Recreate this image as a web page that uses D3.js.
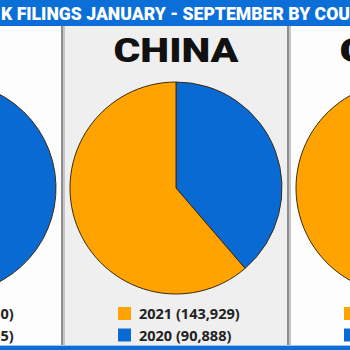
<!DOCTYPE html>
<html>
<head>
<meta charset="utf-8">
<script src="https://cdn.jsdelivr.net/npm/d3@7"></script>
<style>
  html, body { margin: 0; padding: 0; background: #fff; }
  svg { display: block; }
</style>
</head>
<body>
<div id="chart"></div>
<script>
// data
var countries = ['USA', 'CHINA', 'CHILE'];
var years = ['2021', '2020'];
var filings2021 = [101350, 143929, 95412];
var filings2020 = [127455, 90888, 52617];
var yearColors = {'2021': '#ffa300', '2020': '#0a6ad4'};
var panelFills = ['#fdfdfd', '#efefef', '#fdfdfd'];
var titleHead = 'TRADEMAR', titleBody = 'K FILINGS JANUARY - SEPTEMBER BY COU', titleTail = 'NTRY';

var W = 350, H = 350;
var svg = d3.select('#chart').append('svg')
  .attr('width', W)
  .attr('height', H);

var xPanel = d3.scaleBand()
  .domain(countries)
  .range([-163, 515]);

var topY = 26, bottomY = 345;

// panels
var panels = svg.selectAll('g.panel')
  .data(countries)
  .enter().append('g')
  .attr('class', 'panel')
  .attr('transform', function(d) { return 'translate(' + xPanel(d) + ',0)'; });

panels.append('rect')
  .attr('x', 0).attr('y', topY)
  .attr('width', xPanel.bandwidth()).attr('height', bottomY - topY)
  .attr('fill', function(d, i) { return panelFills[i]; });

// dividers between panels
var dividers = countries.slice(1).map(function(c) { return xPanel(c); });
svg.selectAll('g.divider')
  .data(dividers)
  .enter().append('g')
  .attr('class', 'divider')
  .each(function(x) {
    var g = d3.select(this);
    g.append('rect').attr('x', x - 2).attr('y', topY).attr('width', 2).attr('height', bottomY - topY).attr('fill', '#8e8e8e');
    g.append('rect').attr('x', x).attr('y', topY).attr('width', 2).attr('height', bottomY - topY).attr('fill', '#c4c4c4');
  });

var pie = d3.pie().sort(null).value(function(d) { return d.value; });
var radius = 106, cyPie = 188;
var arc = d3.arc().innerRadius(0).outerRadius(radius);

panels.each(function(country, i) {
  var g = d3.select(this);
  var cx = xPanel.bandwidth() / 2;
  var slices = [
    {year: '2020', value: filings2020[i]},
    {year: '2021', value: filings2021[i]}
  ];

  g.append('text')
    .attr('x', cx)
    .attr('y', 62)
    .attr('text-anchor', 'middle')
    .attr('textLength', 25 * country.length)
    .attr('lengthAdjust', 'spacingAndGlyphs')
    .style('font-family', 'Roboto, "Liberation Sans", sans-serif')
    .style('font-weight', 900)
    .style('font-size', '34px')
    .style('fill', '#111')
    .text(country);

  g.append('g')
    .attr('transform', 'translate(' + cx + ',' + cyPie + ')')
    .selectAll('path')
    .data(pie(slices))
    .enter().append('path')
    .attr('d', arc)
    .attr('fill', function(d) { return yearColors[d.data.year]; })
    .attr('stroke', '#3b2a12')
    .attr('stroke-width', 1);

  var vals = {'2021': filings2021[i], '2020': filings2020[i]};
  var leg = g.selectAll('g.leg')
    .data(years)
    .enter().append('g')
    .attr('class', 'leg')
    .attr('transform', function(d, k) { return 'translate(' + (cx - 58) + ',' + (307 + k * 21.5) + ')'; });
  leg.append('rect')
    .attr('width', 13).attr('height', 13)
    .attr('fill', function(d) { return yearColors[d]; });
  leg.append('text')
    .attr('x', 21)
    .attr('y', 12)
    .style('font-family', '"Open Sans", "Noto Sans", sans-serif')
    .style('font-weight', 700)
    .style('font-size', '14.5px')
    .style('fill', '#222')
    .text(function(d) { return d + ' (' + d3.format(',')(vals[d]) + ')'; });
});

// header band
svg.append('rect').attr('x', 0).attr('y', 0).attr('width', W).attr('height', topY).attr('fill', '#0b6fd7');
var titleStyle = function(sel) {
  sel.style('font-family', 'Roboto, sans-serif')
    .style('font-weight', 900)
    .style('font-size', '19px')
    .style('fill', '#fff');
};
svg.append('text').attr('x', 1).attr('y', 19.5)
  .attr('textLength', 349).attr('lengthAdjust', 'spacingAndGlyphs')
  .call(titleStyle).text(titleBody);
svg.append('text').attr('x', -4).attr('y', 19.5).attr('text-anchor', 'end')
  .call(titleStyle).text(titleHead);
svg.append('text').attr('x', 356).attr('y', 19.5)
  .call(titleStyle).text(titleTail);

// bottom band
svg.append('rect').attr('x', 0).attr('y', bottomY).attr('width', W).attr('height', 1).attr('fill', '#9fc3ea');
svg.append('rect').attr('x', 0).attr('y', bottomY + 1).attr('width', W).attr('height', H - bottomY - 1).attr('fill', '#0b6fd7');
</script>
</body>
</html>
